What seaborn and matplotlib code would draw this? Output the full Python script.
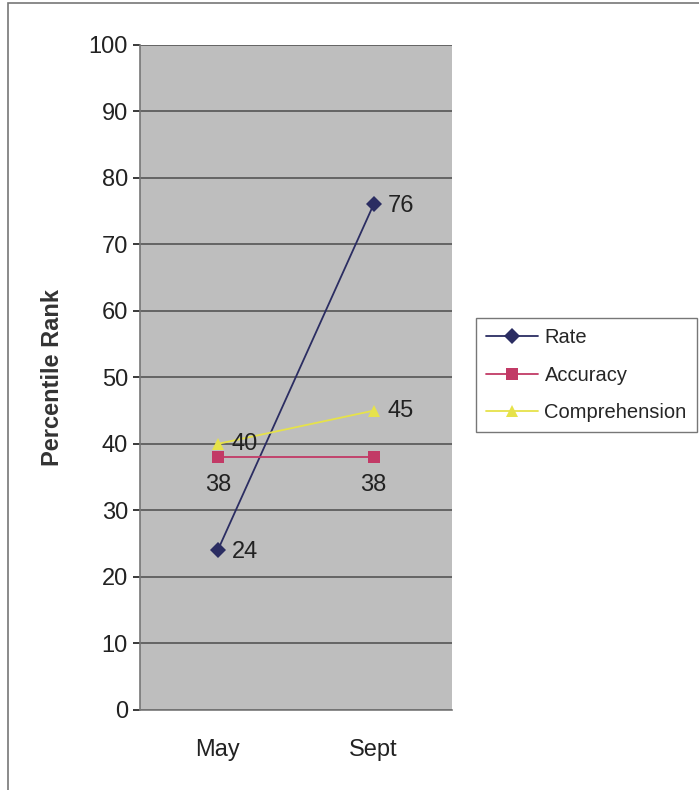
"""Percentile rank chart, May vs Sept."""

import matplotlib
matplotlib.use("Agg")
import matplotlib.pyplot as plt
import pandas as pd
import seaborn as sns

# --- data ---
months = ["May", "Sept"]
rate = [24, 76]
accuracy = [38, 38]
comprehension = [40, 45]

series_names = ["Rate", "Accuracy", "Comprehension"]
series_values = [rate, accuracy, comprehension]
colors = ["#2b2d62", "#c23a66", "#e6e24a"]
markers = ["D", "s", "^"]

rows = []
for name, vals in zip(series_names, series_values):
    for i, (m, v) in enumerate(zip(months, vals)):
        rows.append({"month": m, "pos": i, "series": name, "value": v})
df = pd.DataFrame(rows)

sns.set_theme(style="white")
plt.rcParams["font.family"] = ["Liberation Sans", "DejaVu Sans"]

fig = plt.figure(figsize=(6.99, 7.9), dpi=100)
ax = fig.add_axes([0.200, 0.1013, 0.446, 0.842])
ax.set_facecolor("#bebebe")

sns.lineplot(
    data=df, x="pos", y="value", hue="series", style="series",
    palette=colors, markers=markers, dashes=False, markersize=8,
    linewidth=1.3, markeredgewidth=0, ax=ax, legend=False,
)

# data labels
offsets = {
    "Rate": (10, -1, "left", "center"),
    "Accuracy": (0, -12, "center", "top"),
    "Comprehension": (10, 0, "left", "center"),
}
for name, vals in zip(series_names, series_values):
    dx, dy, ha, va = offsets[name]
    for i, v in enumerate(vals):
        ax.annotate(str(v), (i, v), xytext=(dx, dy), textcoords="offset points",
                    ha=ha, va=va, fontsize=17, color="#222222")

ax.set_xlim(-0.5, 1.5)
ax.set_ylim(0, 100)
ax.set_yticks(range(0, 101, 10))
ax.set_xticks([0, 1])
ax.set_xticklabels(months)
ax.tick_params(axis="both", labelsize=17, colors="#222222", length=5, direction="out",
               left=True, bottom=False)
ax.tick_params(axis="x", pad=16)
ax.grid(axis="y", color="#555555", linewidth=1.2)
ax.set_axisbelow(True)
for side in ["top", "right"]:
    ax.spines[side].set_visible(False)
for side in ["left", "bottom"]:
    ax.spines[side].set_color("#777777")
    ax.spines[side].set_linewidth(1.2)
ax.set_xlabel("")
ax.set_ylabel("Percentile Rank", fontsize=17, fontweight="bold", color="#333333", labelpad=18)

# legend
handles = [plt.Line2D([], [], color=c, marker=m, markersize=8, linewidth=1.3, markeredgewidth=0)
           for c, m in zip(colors, markers)]
leg = fig.legend(handles, series_names, loc="upper left", bbox_to_anchor=(0.681, 0.597),
                 frameon=True, fancybox=False, fontsize=14.5, handlelength=2.6,
                 borderpad=0.5, labelspacing=0.9, handletextpad=0.3,
                 borderaxespad=0)
leg.get_frame().set_edgecolor("#555555")
leg.get_frame().set_linewidth(1.0)

# outer frame of the chart
fig.patches.append(plt.Rectangle((0.012, -0.01), 1.0, 1.006, transform=fig.transFigure,
                                 fill=False, edgecolor="#777777", linewidth=1.2))

fig.savefig("out.png", dpi=100)
